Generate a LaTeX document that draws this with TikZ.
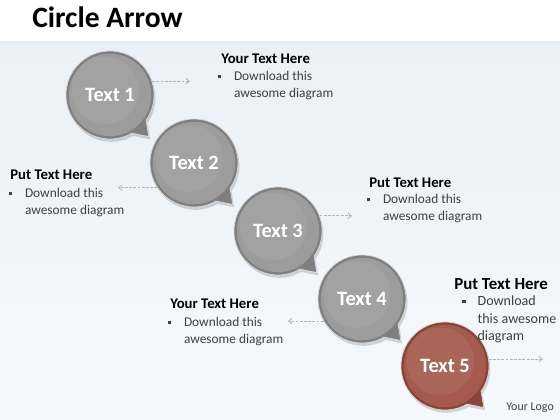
\documentclass[tikz,border=0pt]{standalone}
\usepackage{fontspec}
\setmainfont{Carlito}
\usepackage{xcolor}
\usepackage{tikz}
\usetikzlibrary{arrows.meta}

\definecolor{bgblue}{HTML}{EAF0F6}
\definecolor{ballgray}{HTML}{9C9C9C}
\definecolor{rimgray}{HTML}{7F7F7F}
\definecolor{ballbrown}{HTML}{A45B4D}
\definecolor{rimbrown}{HTML}{87443A}
\definecolor{bodytext}{HTML}{3F3F3F}
\definecolor{linkgray}{HTML}{B4B4B4}

% outline of one speech bubble, tail to the lower right
\newcommand{\bubblepath}{(-35:1.1cm) -- (-47:1.42cm) -- (-60:1.1cm)
  arc[start angle=-60,end angle=-395,radius=1.1cm] -- cycle}

\tikzset{
  rimfill/.style={fill=rimgray},
  mainfill/.style={fill=ballgray},
  bubble/.pic={
    \begin{scope}[xshift=1pt,yshift=-2pt]
      \fill[black,opacity=0.15] \bubblepath;
    \end{scope}
    \fill[rimfill,draw=white!70!gray,line width=0.5pt] \bubblepath;
    \fill[mainfill] (0,0) circle[radius=1.03cm];
    \fill[white,opacity=0.07] (-0.12cm,0.12cm) circle[radius=0.84cm];
  },
  ballnum/.style={circle,minimum size=2.2cm,inner sep=0pt,text=white,
    font=\bfseries\fontsize{14.5}{16}\selectfont},
  head/.style={anchor=base west,inner sep=0pt,
    font=\bfseries\fontsize{10.5}{12}\selectfont},
  body/.style={anchor=base west,inner sep=0pt,text=bodytext,
    font=\fontsize{9.5}{11.4}\selectfont},
  link/.style={draw=linkgray,dash pattern=on 2pt off 1pt,line width=0.6pt,
    -{Straight Barb[length=2.5pt,width=4pt]}}
}

\begin{document}
\begin{tikzpicture}[x=0.025cm,y=0.025cm]
    \useasboundingbox (0,0) rectangle (560,420);
    % background
    \fill[white] (0,0) rectangle (560,420);
    \shade[top color=bgblue,bottom color=white!60!bgblue] (0,0) rectangle (560,378);

    \node[anchor=base west,inner sep=0pt,font=\bfseries\fontsize{21}{24}\selectfont]
        (title) at (32,392) {Circle Arrow};

    % bubbles
    \coordinate (p1) at (110,325);
    \coordinate (p2) at (194,257);
    \coordinate (p3) at (278,189);
    \coordinate (p4) at (362,121);
    \coordinate (p5) at (445,54);
    \pic at (p1) {bubble};
    \pic at (p2) {bubble};
    \pic at (p3) {bubble};
    \pic at (p4) {bubble};
    \pic[rimfill/.style={fill=rimbrown},mainfill/.style={fill=ballbrown}] at (p5) {bubble};
    \node[ballnum] (c1) at (p1) {Text 1};
    \node[ballnum] (c2) at (p2) {Text 2};
    \node[ballnum] (c3) at (p3) {Text 3};
    \node[ballnum] (c4) at (p4) {Text 4};
    \node[ballnum] (c5) at (p5) {Text 5};

    % text blocks
    \node[head] (h1) at (221,356) {Your Text Here};
    \node[body] (b1) at (218,339) {\begin{tabular}[t]{@{}l@{\hspace{9pt}}l@{}}
        \rule[1.8pt]{2.2pt}{2.2pt} & Download this\\ & awesome diagram\end{tabular}};
    \node[head] (h2) at (10,240) {Put Text Here};
    \node[body] (b2) at (9,222) {\begin{tabular}[t]{@{}l@{\hspace{9pt}}l@{}}
        \rule[1.8pt]{2.2pt}{2.2pt} & Download this\\ & awesome diagram\end{tabular}};
    \node[head] (h3) at (369,232) {Put Text Here};
    \node[body] (b3) at (367,216) {\begin{tabular}[t]{@{}l@{\hspace{9pt}}l@{}}
        \rule[1.8pt]{2.2pt}{2.2pt} & Download this\\ & awesome diagram\end{tabular}};
    \node[head] (h4) at (170,111) {Your Text Here};
    \node[body] (b4) at (168,93) {\begin{tabular}[t]{@{}l@{\hspace{9pt}}l@{}}
        \rule[1.8pt]{2.2pt}{2.2pt} & Download this\\ & awesome diagram\end{tabular}};
    \node[head,font=\bfseries\fontsize{12}{14}\selectfont] (h5) at (454,130) {Put Text Here};
    \node[body,font=\fontsize{10}{12.4}\selectfont] (b5) at (462,114)
        {\begin{tabular}[t]{@{}l@{\hspace{8.5pt}}l@{}}
        \rule[2pt]{2.4pt}{2.4pt} & Download\\ & this awesome\\ & diagram\end{tabular}};
    \node[anchor=base west,inner sep=0pt,text=bodytext,font=\fontsize{8.5}{10}\selectfont]
        (logo) at (506,9) {Your Logo};

    % dashed pointers
    \coordinate (a1) at (190,339);
    \coordinate (a2) at (118,233);
    \coordinate (a3) at (352,203);
    \coordinate (a4) at (288,97);
    \coordinate (a5) at (543,61);
    \draw[link] (c1.18) -- (c1.18 -| a1);
    \draw[link] (c2.214) -- (c2.214 -| a2);
    \draw[link] (c3.20) -- (c3.20 -| a3);
    \draw[link] (c4.210) -- (c4.210 -| a4);
    \draw[link] (c5.9) -- (c5.9 -| a5);
\end{tikzpicture}
\end{document}
